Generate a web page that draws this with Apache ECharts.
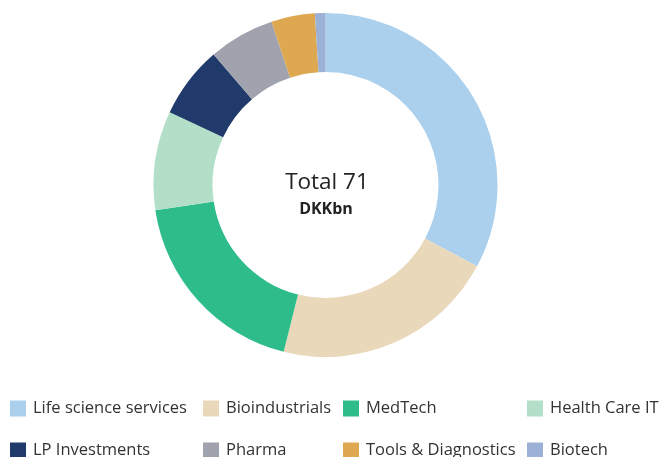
<!DOCTYPE html>
<html>
<head>
<meta charset="utf-8">
<script src="https://cdn.jsdelivr.net/npm/echarts@6/dist/echarts.min.js"></script>
<style>
  html, body { margin: 0; padding: 0; background: #fff; }
  #main { width: 664px; height: 457px; }
</style>
</head>
<body>
<div id="main"></div>
<script>
var categories = ['Life science services', 'Bioindustrials', 'MedTech', 'Health Care IT',
                  'LP Investments', 'Pharma', 'Tools & Diagnostics', 'Biotech'];
var values = [23.3, 14.95, 13.3, 6.6, 4.8, 4.4, 2.9, 0.7];
var colors = ['#abd0ee', '#e9d8ba', '#2ebd8a', '#b3dfc9', '#1f3a6b', '#a0a3ae', '#dda84f', '#9bb1d6'];

// legend grid positions (col x, row y)
var legendX = [10, 203, 343, 527, 10, 203, 343, 527];
var legendY = [400, 400, 400, 400, 442, 442, 442, 442];

var dom = document.getElementById('main');
var myChart = echarts.init(dom);

var legends = categories.map(function (name, i) {
    return {
        data: [name],
        left: legendX[i],
        top: legendY[i],
        padding: 0,
        itemWidth: 16,
        itemHeight: 16,
        itemGap: 0,
        icon: 'rect',
        selectedMode: false,
        textStyle: { fontFamily: 'Open Sans', fontSize: 16.5, color: '#333', padding: [0, 0, 0, 2] }
    };
});

var option = {
    animation: false,
    color: colors,
    legend: legends,
    graphic: [
        {
            type: 'text', x: 327, y: 183,
            style: { text: 'Total 71', font: '22.5px "Open Sans"', fill: '#222', align: 'center', verticalAlign: 'middle' }
        },
        {
            type: 'text', x: 326, y: 209,
            style: { text: 'DKKbn', font: 'bold 16px "Open Sans"', fill: '#222', align: 'center', verticalAlign: 'middle' }
        }
    ],
    series: [
        {
            type: 'pie',
            center: [325.5, 185],
            radius: [113, 172],
            startAngle: 90,
            clockwise: true,
            label: { show: false },
            labelLine: { show: false },
            emphasis: { disabled: true },
            itemStyle: { borderWidth: 0 },
            data: categories.map(function (name, i) {
                return { name: name, value: values[i] };
            })
        }
    ]
};

myChart.setOption(option, true);
window.onresize = myChart.resize;
</script>
</body>
</html>
